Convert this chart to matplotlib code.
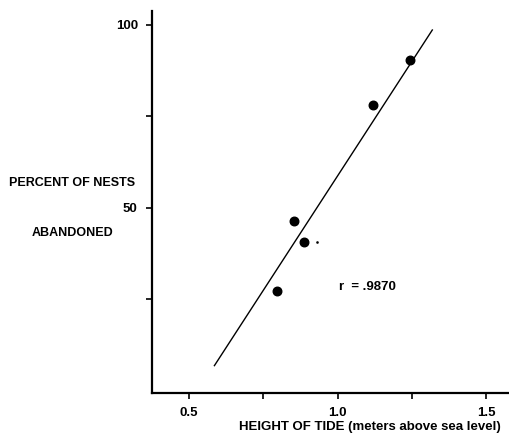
import matplotlib
matplotlib.use("Agg")
import matplotlib.pyplot as plt

# Data
tide_height = [0.796, 0.854, 0.888, 1.118, 1.243]
pct_abandoned = [27.3, 46.4, 40.7, 78.0, 90.4]

# regression line endpoints
fit_x = [0.585, 1.318]
fit_y = [6.8, 98.6]

x_ticks = [0.5, 0.75, 1.0, 1.25, 1.5]
x_tick_labels = ["0.5", "", "1.0", "", "1.5"]
y_ticks = [25, 50, 75, 100]
y_tick_labels = ["", "50", "", "100"]

plt.rcParams['font.family'] = ['Liberation Sans', 'DejaVu Sans']
plt.rcParams['font.weight'] = 'bold'

fig = plt.figure(figsize=(5.09, 4.34), dpi=100)
ax = fig.add_axes([0.298, 0.0952, 0.702, 0.8795])

ax.plot(fit_x, fit_y, color='black', linewidth=1.0)
ax.scatter(tide_height, pct_abandoned, s=38, color='black', zorder=3)
# stray dot next to one of the points
ax.plot([0.931], [40.7], marker='s', markersize=0.8, color='black')

ax.set_xlim(0.374, 1.576)
ax.set_ylim(-0.6, 103.8)

ax.set_xticks(x_ticks)
ax.set_xticklabels(x_tick_labels, fontsize=9.5, fontweight='bold')
ax.set_yticks(y_ticks)
ax.set_yticklabels(y_tick_labels, fontsize=9.5, fontweight='bold')
ax.tick_params(axis='both', direction='out', length=4, width=1.2, pad=6)

for side in ['top', 'right']:
    ax.spines[side].set_visible(False)
for side in ['left', 'bottom']:
    ax.spines[side].set_linewidth(1.6)

ax.text(1.005, 28.3, "r  = .9870", fontsize=9.5, fontweight='bold', va='center', ha='left')

fig.text(72 / 509, 1 - 183 / 434, "PERCENT OF NESTS", fontsize=9, fontweight='bold',
         ha='center', va='center')
fig.text(73 / 509, 1 - 233 / 434, "ABANDONED", fontsize=9, fontweight='bold',
         ha='center', va='center')
fig.text(370 / 509, 1 - 427 / 434, "HEIGHT OF TIDE (meters above sea level)", fontsize=9.5,
         fontweight='bold', ha='center', va='center')

fig.savefig("out.png", dpi=100)
